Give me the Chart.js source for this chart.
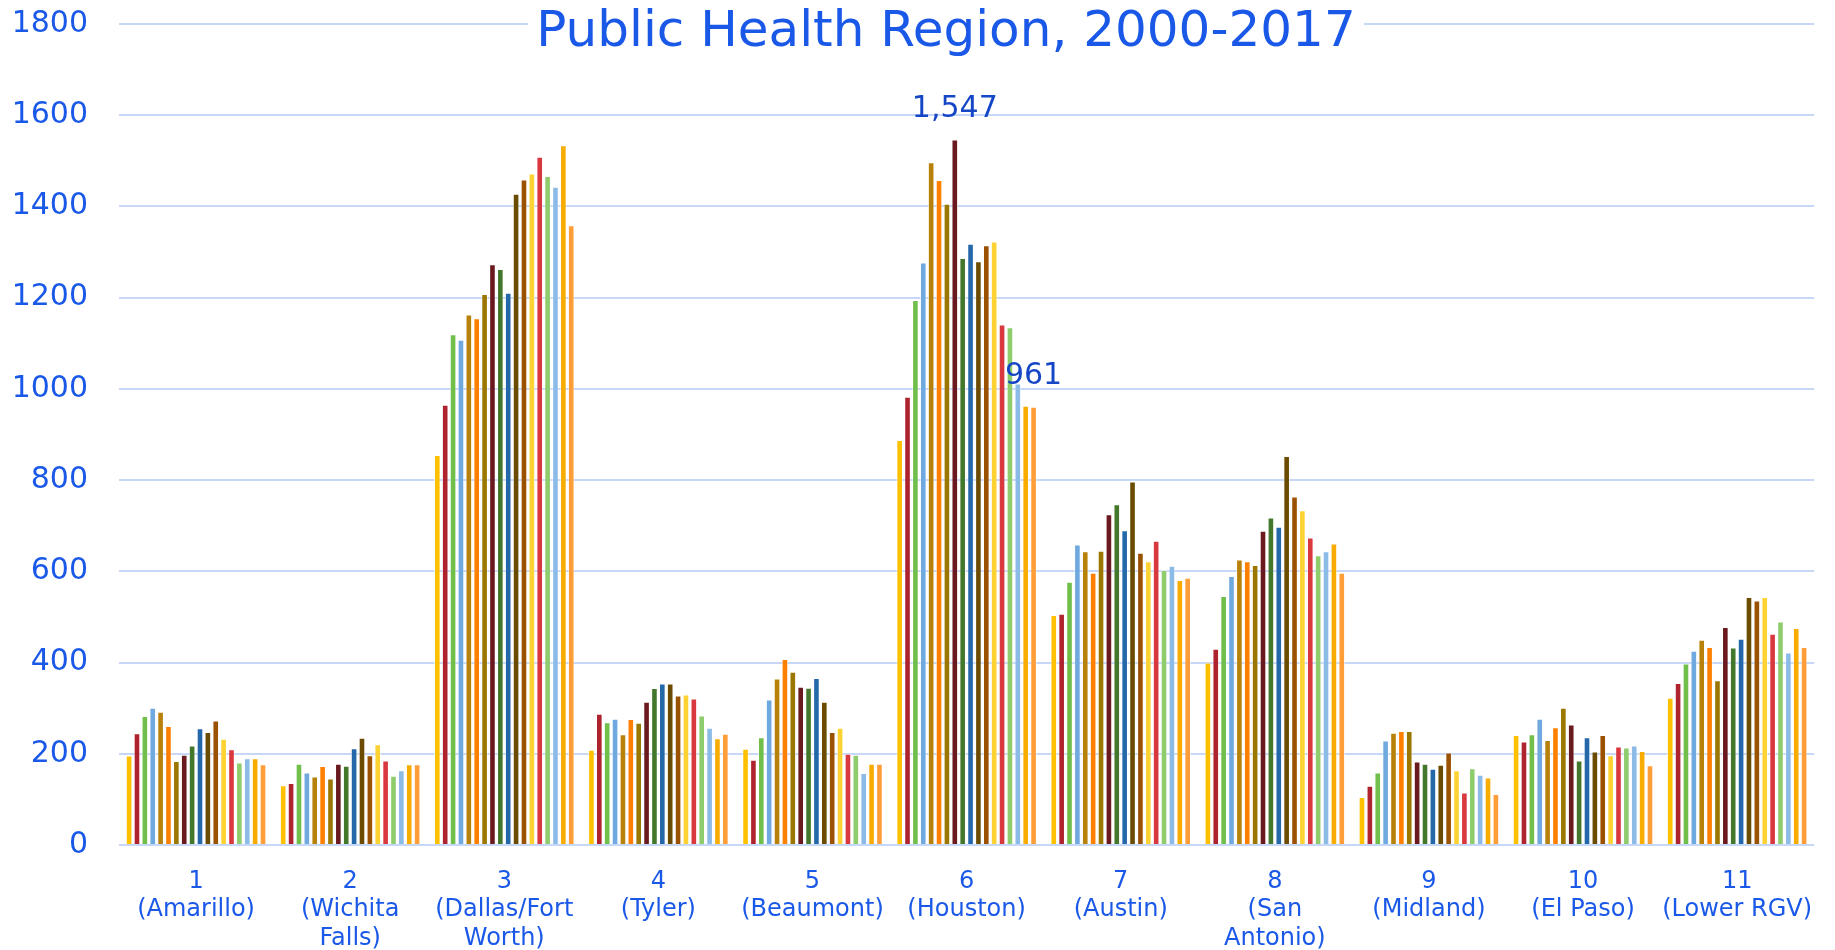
<!DOCTYPE html>
<html>
<head>
<meta charset="utf-8">
<title>Public Health Region, 2000-2017</title>
<script src="https://cdn.jsdelivr.net/npm/chart.js@4.4.1/dist/chart.umd.min.js"></script>
<style>
  body { margin: 0; background: #fff; }
  canvas { display: block; }
</style>
</head>
<body>
<canvas id="regionChart" width="1835" height="950"></canvas>
<script>
// region labels (multi-line, as on the axis)
const regions = [
  ['1', '(Amarillo)'],
  ['2', '(Wichita', 'Falls)'],
  ['3', '(Dallas/Fort', 'Worth)'],
  ['4', '(Tyler)'],
  ['5', '(Beaumont)'],
  ['6', '(Houston)'],
  ['7', '(Austin)'],
  ['8', '(San', 'Antonio)'],
  ['9', '(Midland)'],
  ['10', '(El Paso)'],
  ['11', '(Lower RGV)']
];
const years = ['2000','2001','2002','2003','2004','2005','2006','2007','2008',
               '2009','2010','2011','2012','2013','2014','2015','2016','2017'];

// counts per region, 2000 -> 2017
const amarillo    = [196, 245, 283, 301, 292, 261, 184, 198, 218, 256, 248, 273, 233, 210, 181, 190, 190, 177];
const wichitaFalls = [131, 136, 178, 159, 150, 173, 146, 178, 174, 212, 235, 197, 221, 185, 152, 164, 177, 177];
const dallasFtWorth = [855, 965, 1120, 1108, 1163, 1155, 1208, 1273, 1263, 1211, 1428, 1459, 1472, 1509, 1467, 1443, 1534, 1359];
const tyler       = [209, 288, 269, 277, 243, 276, 268, 314, 344, 354, 354, 328, 330, 321, 284, 257, 234, 244];
const beaumont    = [211, 187, 236, 319, 365, 408, 380, 347, 345, 366, 314, 248, 257, 200, 198, 158, 178, 178];
const houston     = [888, 983, 1195, 1277, 1497, 1458, 1406, 1547, 1287, 1318, 1280, 1315, 1323, 1141, 1135, 1012, 963, 961];
const austin      = [504, 507, 577, 659, 644, 597, 645, 725, 747, 690, 797, 641, 622, 667, 603, 612, 581, 586];
const sanAntonio  = [400, 430, 546, 590, 626, 622, 614, 689, 718, 698, 853, 764, 734, 674, 635, 644, 661, 597];
const midland     = [105, 130, 159, 229, 246, 250, 250, 183, 178, 167, 176, 203, 164, 115, 168, 154, 148, 112];
const elPaso      = [241, 227, 243, 277, 230, 258, 301, 264, 185, 236, 205, 241, 197, 216, 214, 218, 206, 175];
const lowerRGV    = [323, 355, 398, 426, 450, 434, 361, 478, 433, 452, 544, 536, 544, 463, 490, 422, 476, 434];

const regionRows = [amarillo, wichitaFalls, dallasFtWorth, tyler, beaumont, houston,
                    austin, sanAntonio, midland, elPaso, lowerRGV];

// [year index, region index] of the bars that carry a value label
const calloutBars = [[7, 5], [17, 5]];

const yearColors = ['#FFC000', '#AE232D', '#70BF4A', '#6FA9DF', '#B8820A', '#FF8000',
                    '#9C7700', '#6A1A1E', '#43782C', '#2468AA', '#6A4B00', '#9A5100',
                    '#FFD233', '#D9383F', '#8ECC6C', '#8CBBE8', '#F9AC00', '#FF9D38'];

const blueText = '#1A58E8';
const labelBlue = '#1546C6';
const gridBlue = '#C7D7F8';
const titleText = 'Public Health Region, 2000-2017';
const fontFamily = '"DejaVu Sans", Verdana, sans-serif';

const datasets = years.map((yr, i) => ({
  label: yr,
  data: regionRows.map(row => row[i]),
  backgroundColor: yearColors[i],
  borderColor: 'rgba(255,255,255,0.55)',
  borderWidth: 1,
  categoryPercentage: 0.92,
  barPercentage: 0.84
}));

const overlayText = {
  id: 'overlayText',
  afterDatasetsDraw(chart) {
    const ctx = chart.ctx;
    ctx.save();
    ctx.textAlign = 'center';
    ctx.textBaseline = 'middle';
    ctx.font = '30px ' + fontFamily;
    ctx.fillStyle = labelBlue;
    calloutBars.forEach(([yi, ri]) => {
      const bar = chart.getDatasetMeta(yi).data[ri];
      const v = chart.data.datasets[yi].data[ri];
      ctx.fillText(v.toLocaleString('en-US'), bar.x, bar.y - 30);
    });
    // title sits on top of the plot, with a white box behind it
    ctx.font = '50px ' + fontFamily;
    const w = ctx.measureText(titleText).width;
    ctx.fillStyle = '#fff';
    ctx.fillRect(946 - w / 2 - 8, 6, w + 16, 54);
    ctx.fillStyle = blueText;
    ctx.fillText(titleText, 946, 33);
    ctx.restore();
  }
};

new Chart(document.getElementById('regionChart'), {
  type: 'bar',
  data: { labels: regions, datasets: datasets },
  options: {
    responsive: false,
    animation: false,
    layout: { padding: { top: 24, right: 19, left: 0, bottom: 0 } },
    plugins: {
      legend: { display: false },
      title: { display: false },
      tooltip: { enabled: false }
    },
    scales: {
      x: {
        grid: { display: false, drawTicks: false },
        border: { display: false },
        ticks: {
          color: blueText,
          font: { family: fontFamily, size: 24, lineHeight: 1.2 },
          padding: 22,
          maxRotation: 0,
          autoSkip: false
        },
        afterFit(scale) { scale.height = 105; }
      },
      y: {
        min: 0,
        max: 1800,
        grid: { color: gridBlue, lineWidth: 2, drawTicks: false },
        border: { display: false },
        ticks: {
          stepSize: 200,
          color: blueText,
          font: { family: fontFamily, size: 30 },
          padding: 31,
          callback: v => String(v)
        },
        afterFit(scale) {
          scale.width = 119;
          scale.paddingTop = 0;
          scale.paddingBottom = 0;
        }
      }
    }
  },
  plugins: [overlayText]
});
</script>
</body>
</html>
